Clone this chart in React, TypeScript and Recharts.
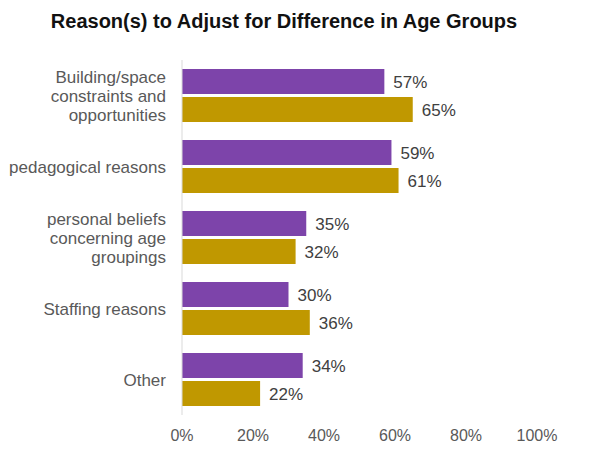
import { BarChart, Bar, XAxis, YAxis, LabelList } from 'recharts';

const categories = [
  'Building/space constraints and opportunities',
  'pedagogical reasons',
  'personal beliefs concerning age groupings',
  'Staffing reasons',
  'Other',
];

// how each category label wraps on the axis
const categoryLines: string[][] = [
  ['Building/space', 'constraints and', 'opportunities'],
  ['pedagogical reasons'],
  ['personal beliefs', 'concerning age', 'groupings'],
  ['Staffing reasons'],
  ['Other'],
];

const firstGroup = [57, 59, 35, 30, 34];
const secondGroup = [65, 61, 32, 36, 22];

const xTicks = [0, 20, 40, 60, 80, 100];

const data = categories.map((name, i) => ({
  name,
  first: firstGroup[i],
  second: secondGroup[i],
}));

const FONT = '"Liberation Sans", Arial, sans-serif';

function CategoryTick(props: any) {
  const { x, y, payload } = props;
  const idx = categories.indexOf(payload.value);
  const lines = categoryLines[idx] ?? [payload.value];
  const lineHeight = 19;
  const startDy = -((lines.length - 1) * lineHeight) / 2;
  return (
    <text x={x} y={y} textAnchor="end" fill="#595959" fontSize={17} fontFamily={FONT}>
      {lines.map((line, i) => (
        <tspan key={i} x={x} dy={i === 0 ? startDy + 6 : lineHeight}>
          {line}
        </tspan>
      ))}
    </text>
  );
}

export default function App() {
  return (
    <div style={{ position: 'absolute', left: 0, top: 0, width: 604, height: 467, background: '#fff' }}>
      <div
        style={{
          position: 'absolute',
          top: 10,
          left: 0,
          width: 568,
          textAlign: 'center',
          fontFamily: FONT,
          fontWeight: 'bold',
          fontSize: 20,
          color: '#111',
        }}
      >
        Reason(s) to Adjust for Difference in Age Groups
      </div>
      <BarChart
        width={604}
        height={467}
        data={data}
        layout="vertical"
        margin={{ top: 60, right: 67, bottom: 22, left: 0 }}
        barSize={25}
        barGap={3}
      >
        <XAxis
          type="number"
          domain={[0, 100]}
          ticks={xTicks}
          tickFormatter={(v) => `${v}%`}
          axisLine={false}
          tickLine={false}
          tickMargin={9}
          height={30}
          tick={{ fill: '#595959', fontSize: 16, fontFamily: FONT }}
        />
        <YAxis
          type="category"
          dataKey="name"
          width={182}
          axisLine={{ stroke: '#d9d9d9' }}
          tickLine={false}
          tickMargin={10}
          tick={<CategoryTick />}
          interval={0}
        />
        <Bar dataKey="first" fill="#7d44aa" isAnimationActive={false}>
          <LabelList
            dataKey="first"
            position="right"
            offset={9}
            formatter={(v: any) => `${v}%`}
            style={{ fill: '#404040', fontSize: 17, fontFamily: FONT }}
          />
        </Bar>
        <Bar dataKey="second" fill="#c09800" isAnimationActive={false}>
          <LabelList
            dataKey="second"
            position="right"
            offset={9}
            formatter={(v: any) => `${v}%`}
            style={{ fill: '#404040', fontSize: 17, fontFamily: FONT }}
          />
        </Bar>
      </BarChart>
    </div>
  );
}
